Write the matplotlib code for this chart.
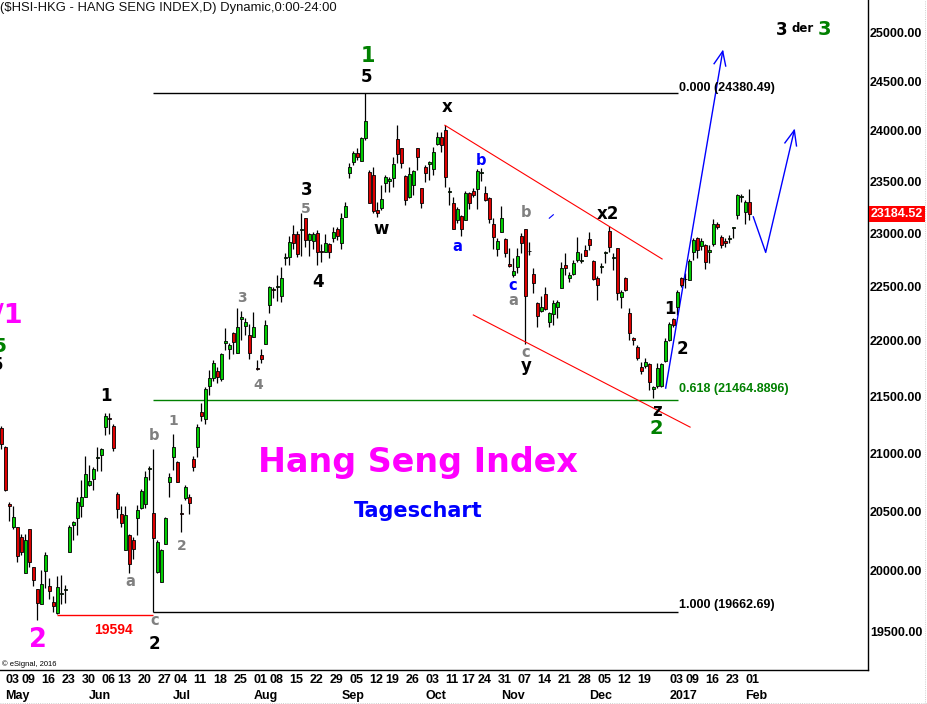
import numpy as np
import pandas as pd
import matplotlib
matplotlib.use('Agg')
import matplotlib.pyplot as plt
from matplotlib.ticker import FixedLocator, NullLocator, FuncFormatter
from matplotlib.transforms import blended_transform_factory
from matplotlib.lines import Line2D

plt.rcParams['font.family'] = ['Liberation Sans', 'DejaVu Sans']

# Handelstage der HKEX (Feiertage und Taifun-Tage fehlen)
holidays = ['2016-05-02', '2016-06-09', '2016-07-01', '2016-08-02', '2016-09-16',
            '2016-10-10', '2016-10-21', '2016-12-26', '2016-12-27', '2017-01-02',
            '2017-01-30', '2017-01-31']
dates = pd.bdate_range('2016-04-29', '2017-02-02')
dates = dates[~dates.isin(pd.to_datetime(holidays))]

opens = [21222, 21056, 20565, 20370, 20362, 20286, 19978, 20353, 20028, 19846,
         19723, 19995, 19871, 19739, 19650, 19805, 19838, 20160, 20387, 20438,
         20540, 20624, 20727, 20779, 20955, 20986, 21230, 21310, 21239, 20650,
         20480, 20169, 20295, 20253, 20438, 20531, 20565, 20865, 20488, 19986,
         19903, 20227, 20753, 20969, 20925, 20488, 20616, 20624, 20951, 21056,
         21362, 21301, 21594, 21665, 21728, 21656, 21982, 21927, 22073, 21891,
         22200, 22136, 22055, 22036, 21755, 21873, 21973, 22329, 22475, 22495,
         22412, 22770, 22777, 22995, 22995, 23030, 23147, 22938, 22929, 23004,
         22830, 22824, 22900, 22957, 23042, 22910, 23157, 23583, 23690, 23778,
         23700, 23927, 23593, 23563, 23224, 23243, 23485, 23505, 23534, 23917,
         23828, 23554, 23350, 23465, 23828, 23436, 23642, 23671, 23622, 23867,
         23937, 24006, 23398, 23292, 23128, 23166, 23128, 23388, 23407, 23427,
         23583, 23388, 23340, 23090, 22853, 23014, 22948, 22711, 22608, 22683,
         22976, 23042, 22830, 22618, 22347, 22274, 22431, 22173, 22246, 22311,
         22487, 22702, 22580, 22618, 22749, 22740, 22843, 22948, 22740, 22580,
         22683, 22815, 23023, 22768, 22862, 22403, 22580, 22256, 22027, 21945,
         21764, 21773, 21794, 21567, 21588, 21594, 21821, 22003, 22197, 22310,
         22577, 22567, 22561, 22827, 22954, 22881, 22891, 22827, 22900, 23096,
         22964, 22929, 22948, 23055, 23176, 23350, 23208, 23305]
highs = [21239, 21065, 20582, 20540, 20370, 20311, 20303, 20353, 20028, 19846,
         20003, 20152, 19936, 19789, 19953, 19961, 19879, 20379, 20421, 20624,
         20770, 20978, 20899, 20882, 21056, 21047, 21353, 21353, 21257, 20667,
         20540, 20540, 20303, 20286, 20556, 20693, 20847, 20890, 21039, 20253,
         20185, 20454, 20830, 21169, 20934, 20565, 20727, 20650, 20978, 21257,
         21442, 21585, 21737, 21827, 21764, 21891, 22118, 21982, 22082, 22301,
         22274, 22209, 22155, 22265, 21827, 21927, 22191, 22505, 22496, 22608,
         22683, 22815, 22976, 23080, 23023, 23195, 23147, 23004, 23014, 23033,
         22900, 22995, 22910, 23061, 23061, 23195, 23302, 23681, 23798, 23828,
         23937, 24380, 23612, 23642, 23302, 23465, 23563, 23544, 23739, 24056,
         23828, 23563, 23642, 23612, 23828, 23436, 23661, 23700, 23838, 23986,
         23986, 24056, 23446, 23350, 23253, 23176, 23407, 23398, 23436, 23622,
         23632, 23456, 23350, 23147, 22957, 23263, 22957, 22862, 22768, 22862,
         23004, 23042, 22919, 22674, 22357, 22412, 22496, 22265, 22375, 22375,
         22730, 22815, 22637, 22749, 22967, 22815, 22891, 23014, 22749, 22599,
         22721, 22834, 23071, 22815, 22862, 22468, 22590, 22301, 22036, 21964,
         21809, 21845, 21803, 21594, 21800, 21800, 22027, 22176, 22206, 22468,
         22592, 22624, 22755, 22954, 22970, 22954, 22900, 22891, 23144, 23112,
         22986, 22954, 22986, 23064, 23385, 23385, 23321, 23433]
lows = [21039, 20675, 20421, 20345, 20069, 20127, 19978, 20028, 19871, 19594,
        19723, 19854, 19764, 19658, 19642, 19723, 19731, 20160, 20253, 20295,
        20454, 20624, 20718, 20684, 20847, 20847, 21160, 21169, 21021, 20446,
        20370, 20169, 19978, 20094, 20295, 20522, 20531, 20770, 19663, 19978,
        19903, 20219, 20624, 20856, 20753, 20320, 20591, 20480, 20847, 20969,
        21283, 21257, 21514, 21638, 21620, 21638, 21918, 21836, 21882, 21891,
        22009, 22055, 21836, 22036, 21737, 21800, 21973, 22256, 22394, 22366,
        22357, 22702, 22702, 22853, 22777, 22787, 22872, 22787, 22853, 22702,
        22730, 22824, 22768, 22919, 22938, 22853, 23157, 23534, 23661, 23710,
        23700, 23907, 23292, 23195, 23157, 23224, 23398, 23398, 23446, 23681,
        23632, 23273, 23340, 23369, 23612, 23243, 23495, 23514, 23563, 23857,
        23788, 23446, 23273, 23042, 23099, 22976, 23128, 23234, 23350, 23234,
        23505, 23311, 23099, 22853, 22787, 23014, 22777, 22683, 22590, 22627,
        22815, 21973, 22796, 22440, 22127, 22265, 22283, 22127, 22146, 22209,
        22487, 22608, 22543, 22608, 22730, 22721, 22787, 22843, 22561, 22375,
        22627, 22721, 22824, 22655, 22375, 22301, 22459, 22009, 21964, 21827,
        21701, 21755, 21558, 21488, 21576, 21585, 21812, 21994, 22130, 22237,
        22498, 22483, 22561, 22749, 22765, 22843, 22661, 22718, 22881, 23048,
        22859, 22868, 22913, 22954, 23144, 23305, 23096, 23128]
closes = [21082, 20684, 20540, 20454, 20119, 20160, 20253, 20069, 19920, 19731,
          19887, 20127, 19830, 19707, 19862, 19813, 19846, 20370, 20412, 20582,
          20624, 20822, 20762, 20864, 20960, 21039, 21327, 21301, 21047, 20522,
          20404, 20471, 20053, 20185, 20514, 20675, 20796, 20873, 20270, 20236,
          20177, 20438, 20796, 21056, 20753, 20480, 20710, 20573, 20882, 21230,
          21327, 21567, 21665, 21800, 21674, 21882, 22000, 21964, 21991, 22127,
          22218, 22173, 21891, 22127, 21746, 21836, 22146, 22496, 22468, 22505,
          22580, 22777, 22919, 22910, 22805, 23040, 22938, 22995, 22995, 22824,
          22824, 22910, 22824, 23014, 22976, 23147, 23263, 23642, 23778, 23739,
          23927, 24096, 23292, 23214, 23195, 23331, 23544, 23524, 23671, 23769,
          23681, 23321, 23573, 23602, 23739, 23292, 23583, 23690, 23788, 23937,
          23857, 23544, 23407, 23042, 23234, 23042, 23388, 23292, 23369, 23602,
          23593, 23321, 23137, 22967, 22929, 23147, 22815, 22693, 22646, 22787,
          22910, 22412, 22834, 22533, 22228, 22311, 22292, 22256, 22347, 22357,
          22674, 22674, 22608, 22721, 22824, 22749, 22787, 22891, 22571, 22515,
          22693, 22815, 22872, 22768, 22440, 22449, 22468, 22073, 22009, 21845,
          21728, 21809, 21632, 21580, 21755, 21791, 21994, 22155, 22146, 22452,
          22514, 22571, 22742, 22938, 22843, 22932, 22733, 22843, 23096, 23058,
          22891, 22906, 22954, 23058, 23369, 23353, 23305, 23185]
last_close = 23184.52

# Fibonacci-Retracement (Tief 24.06. bis Hoch 09.09.)
fib_levels = [24380.49, 21464.8896, 19662.69]
fib_texts = ['0.000 (24380.49)', '0.618 (21464.8896)', '1.000 (19662.69)']
fib_colors = ['black', 'green', 'black']
price_ticks = np.arange(19500, 25001, 500)

assert len(dates) == len(opens) == len(highs) == len(lows) == len(closes)

fig = plt.figure(figsize=(9.27, 7.04), dpi=100)
ax = fig.add_axes([0, 34 / 704, 868 / 927, 670 / 704])
ax.set_yscale('log')

x = np.arange(len(dates))
o = np.array(opens, float)
h = np.array(highs, float)
l = np.array(lows, float)
c = np.array(closes, float)

# Kerzen: Dochte, dann Körper
ax.vlines(x, l, h, color='black', lw=0.9, zorder=2)
lo = np.minimum(o, c)
hi = np.maximum(np.maximum(o, c), lo * 1.0003)
farben = np.where(c >= o, '#00CC00', '#DD0000')
ax.bar(x, hi - lo, bottom=lo, width=0.7, color=farben, edgecolor='black',
       linewidth=0.6, zorder=3)

ax.set_xlim(-0.325, 216.675)
ax.set_ylim(19194, 25338)

# Fibonacci-Linien vom Brexit-Tief (Kerze 38) bis rechts
fib_start = 38
for lev, col in zip(fib_levels, fib_colors):
    ax.hlines(lev, fib_start, 169.2, color=col, lw=1.0, zorder=1)
ax.text(169.4, 24405, fib_texts[0], fontsize=9, fontweight='bold', color='black', va='baseline')
ax.text(169.4, 21537, fib_texts[1], fontsize=9, fontweight='bold', color='green', va='baseline')
ax.text(169.4, 19696, fib_texts[2], fontsize=9, fontweight='bold', color='black', va='baseline')

# rote Linie beim Tief
ax.hlines(19636, 14, 38, color='red', lw=1.0)

# Trendkanal
ax.plot([110.9, 165.2], [24056, 22759], color='red', lw=0.8)
ax.plot([118.0, 172.2], [22237, 21227], color='red', lw=0.8)

# Prognosepfeile
blau = '#0000FF'
ax.plot([166.1, 180.35], [21573, 24805], color=blau, lw=1.0)
ax.plot([178.2, 180.35, 181.1], [24678, 24805, 24654], color=blau, lw=1.0)
ax.plot([188.0, 191.1, 198.25], [23160, 22821, 24006], color=blau, lw=1.0)
ax.plot([195.9, 198.25, 198.8], [23881, 24006, 23851], color=blau, lw=1.0)
ax.plot([137.0, 138.0], [23147, 23180], color=blau, lw=0.8)

# Wellen-Beschriftungen: (x, y, text, farbe, groesse)
wf = ['DejaVu Sans']
labels = [
    (91.55, 24700, '1', 'green', 15), (91.35, 24488, '5', 'black', 12),
    (111.35, 24185, 'x', 'black', 12), (76.35, 23369, '3', 'black', 12),
    (76.2, 23195, '5', 'gray', 10), (94.9, 22994, 'w', 'black', 12),
    (79.2, 22496, '4', 'black', 12), (114.05, 22834, 'a', blau, 10.5),
    (120.0, 23661, 'b', blau, 10.5), (131.2, 23157, 'b', 'gray', 10.5),
    (151.7, 23138, 'x2', 'black', 12), (127.9, 22471, 'c', blau, 10.5),
    (128.05, 22329, 'a', 'gray', 10.5), (131.2, 21850, 'c', 'gray', 10.5),
    (131.2, 21722, 'y', 'black', 12), (164.05, 21327, 'z', 'black', 12),
    (163.75, 21163, '2', 'green', 14), (167.2, 22243, '1', 'black', 12),
    (170.3, 21879, '2', 'black', 12), (60.2, 22357, '3', 'gray', 10),
    (64.2, 21567, '4', 'gray', 10), (26.2, 21462, '1', 'black', 12),
    (43.0, 21247, '1', 'gray', 10), (38.25, 21110, 'b', 'gray', 10.5),
    (45.2, 20171, '2', 'gray', 10), (32.2, 19873, 'a', 'gray', 10.5),
    (38.25, 19554, 'c', 'gray', 10.5), (38.35, 19362, '2', 'black', 12),
    (9.2, 19380, '2', '#FF00FF', 18.5),
    (195.2, 24978, '3', 'black', 12), (200.4, 24999, 'der', 'black', 8.5),
    (205.7, 24968, '3', 'green', 14),
]
for xp, yp, t, col, fs in labels:
    ax.text(xp, yp, t, color=col, fontsize=fs, fontweight='bold', family=wf,
            ha='center', va='baseline')

# angeschnittene Labels am linken Rand (im Original ebenfalls abgeschnitten)
ax.text(5.3, 22163, '1/1', color='#FF00FF', fontsize=19.5, fontweight='bold', family=wf,
        ha='right', va='baseline')
ax.text(1.18, 21900, '5', color='green', fontsize=14.5, fontweight='bold', family=wf,
        ha='right', va='baseline')
ax.text(0.5, 21735, '5', color='black', fontsize=12, fontweight='bold', family=wf,
        ha='right', va='baseline')

ax.text(28.0, 19484, '19594', color='red', fontsize=10, fontweight='bold',
        ha='center', va='baseline')

ax.text(104.2, 20832, 'Hang Seng Index', color='#FF00FF', fontsize=24, fontweight='bold',
        family=wf, ha='center', va='baseline')
ax.text(104.3, 20449, 'Tageschart', color=blau, fontsize=15, fontweight='bold',
        family=wf, ha='center', va='baseline')

# Preisachse rechts
ax.yaxis.tick_right()
ax.yaxis.set_major_locator(FixedLocator(price_ticks))
ax.yaxis.set_minor_locator(NullLocator())
ax.yaxis.set_major_formatter(FuncFormatter(lambda v, p: f'{v:.2f}'))
ax.tick_params(axis='y', length=0, pad=1.5, labelsize=9)
for t in ax.get_yticklabels():
    t.set_fontweight('bold')

trans = blended_transform_factory(ax.transAxes, ax.transData)
ax.text(1.0 + 2.5 / 868, last_close, f'{last_close:.2f}', transform=trans, color='white',
        fontsize=9, fontweight='bold', va='center', ha='left',
        bbox=dict(boxstyle='square,pad=0.15', facecolor='#FF0000', edgecolor='none'))

# Datumsachse
ax.set_xticks([])
xt = ax.get_xaxis_transform()
iso = [d.isocalendar()[1] for d in dates]
wochen = [j for j in range(1, len(dates)) if iso[j] != iso[j - 1]]
wochen = [j for k, j in enumerate(wochen) if k == len(wochen) - 1 or wochen[k + 1] - j >= 4]
for j in wochen:
    ax.text(j, -13.3 / 670, f'{dates[j].day:02d}', transform=xt, ha='left', va='baseline',
            fontsize=9, fontweight='bold')
for j in range(1, len(dates)):
    if dates[j].month != dates[j - 1].month:
        name = str(dates[j].year) if dates[j].month == 1 else dates[j].strftime('%b')
        ax.text(j, -29.3 / 670, name, transform=xt, ha='left', va='baseline',
                fontsize=9, fontweight='bold')

for s in ['top', 'left']:
    ax.spines[s].set_visible(False)
for s in ['right', 'bottom']:
    ax.spines[s].set_linewidth(1.0)

fig.text(0.5 / 927, 1 - 11.5 / 704, '($HSI-HKG - HANG SENG INDEX,D) Dynamic,0:00-24:00',
         fontsize=9.4, color='#111111', ha='left', va='baseline')
fig.text(2 / 927, 1 - 666 / 704, '© eSignal, 2016', fontsize=5.5, ha='left', va='baseline')
fig.add_artist(Line2D([925 / 927, 925 / 927], [0, 1], color='#c0c0c0', lw=0.6, ls=':'))
fig.add_artist(Line2D([0, 1], [1.5 / 704, 1.5 / 704], color='#c0c0c0', lw=0.6, ls=':'))

fig.savefig('out.png', dpi=100, facecolor='white')
